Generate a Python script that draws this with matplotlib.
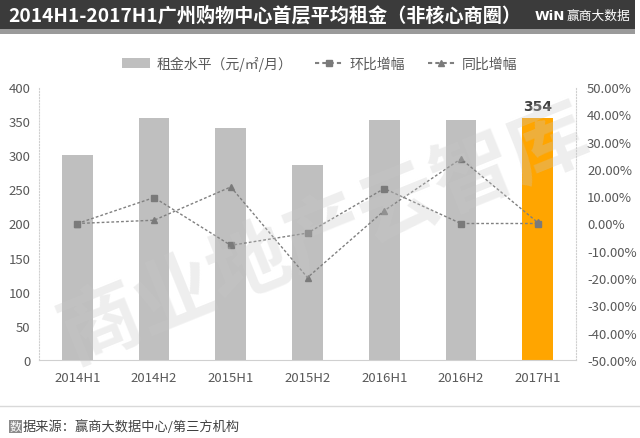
import matplotlib
matplotlib.use("Agg")
import matplotlib.pyplot as plt
import matplotlib.patches as mpatches
from matplotlib.lines import Line2D
import numpy as np

plt.rcParams['font.family'] = ['Noto Sans CJK SC', 'DejaVu Sans']

categories = ["2014H1", "2014H2", "2015H1", "2015H2", "2016H1", "2016H2", "2017H1"]
rent = [300, 354, 340, 285, 351, 351, 354]
qoq = [0.0, 9.5, -8.0, -3.5, 12.8, 0.0, 0.0]
yoy = [0.0, 1.2, 13.4, -19.8, 4.7, 23.7, 0.4]
left_ticks = [0, 50, 100, 150, 200, 250, 300, 350, 400]
right_ticks = [-50, -40, -30, -20, -10, 0, 10, 20, 30, 40, 50]

title = "2014H1-2017H1广州购物中心首层平均租金（非核心商圈）"
legend_labels = ["租金水平（元/㎡/月）", "环比增幅", "同比增幅"]
source = "据来源：赢商大数据中心/第三方机构"

W, H = 640, 439
fig = plt.figure(figsize=(W / 100, H / 100), dpi=100)
fig.patch.set_facecolor("white")

# title band
fig.patches.append(mpatches.Rectangle((0, 1 - 30 / H), 635 / W, 30 / H, transform=fig.transFigure,
                                      facecolor="#3b3b3b", edgecolor="none", zorder=0))
fig.patches.append(mpatches.Rectangle((0, 1 - 35 / H), 635 / W, 5 / H, transform=fig.transFigure,
                                      facecolor="#9a9a9a", edgecolor="none", zorder=0))
fig.text(8 / W, 1 - 16 / H, title, color="white", fontsize=13.8, fontweight="bold",
         va="center", ha="left")
fig.text(535 / W, 1 - 16 / H, "WiN", color="white", fontsize=9.5, fontweight="bold",
         va="center", ha="left", family="DejaVu Sans")
fig.text(567 / W, 1 - 16 / H, "赢商大数据", color="white", fontsize=9.2,
         va="center", ha="left")

ax = fig.add_axes([39 / W, 1 - 361 / H, (576 - 39) / W, (361 - 88) / H])
x = np.arange(len(categories))
colors = ["#bfbfbf"] * (len(categories) - 1) + ["#ffa500"]
ax.bar(x, rent, width=0.4, color=colors, zorder=2)
ax.set_ylim(0, 400)
ax.set_xlim(-0.5, len(categories) - 0.5)
ax.set_yticks(left_ticks)
ax.set_xticks(x)
ax.set_xticklabels(categories)
ax.tick_params(axis="both", colors="#595959", labelsize=9.5, length=0)
ax.tick_params(axis="x", pad=8)
ax.tick_params(axis="y", pad=6)
for s in ["top", "right"]:
    ax.spines[s].set_visible(False)
ax.spines["left"].set_color("#d0d0d0")
ax.spines["left"].set_linestyle(":")
ax.spines["bottom"].set_color("#d0d0d0")
ax.text(x[-1], rent[-1] + 8, str(rent[-1]), ha="center", va="bottom", fontsize=10,
        fontweight="bold", color="#404040", family="DejaVu Sans")

ax2 = ax.twinx()
ax2.set_ylim(-50, 50)
ax2.set_yticks(right_ticks)
ax2.set_yticklabels([f"{v:.2f}%" for v in right_ticks])
ax2.tick_params(axis="y", colors="#595959", labelsize=9.5, length=0, pad=8)
for s in ["top", "left", "bottom"]:
    ax2.spines[s].set_visible(False)
ax2.spines["right"].set_color("#d0d0d0")
ax2.spines["right"].set_linestyle(":")
ax2.plot(x, qoq, linestyle=(0, (2, 1.5)), color="#808080", linewidth=1.0,
         marker="s", markersize=5, markerfacecolor="#7a7a7a", markeredgecolor="#7a7a7a", zorder=3)
ax2.plot(x, yoy, linestyle=(0, (2, 1.5)), color="#808080", linewidth=1.0,
         marker="^", markersize=5, markerfacecolor="#7a7a7a", markeredgecolor="#7a7a7a", zorder=3)

# watermark
fig.text(325 / W, 1 - 235 / H, "商业地产云智库", fontsize=58, color="#c8c8c8", alpha=0.3,
         rotation=22, ha="center", va="center", fontweight="bold", zorder=5)

# legend
handles = [
    mpatches.Patch(facecolor="#bfbfbf", edgecolor="none"),
    Line2D([], [], linestyle=(0, (2, 1.5)), color="#808080", marker="s", markersize=4,
           markerfacecolor="#7a7a7a", markeredgecolor="#7a7a7a"),
    Line2D([], [], linestyle=(0, (2, 1.5)), color="#808080", marker="^", markersize=4,
           markerfacecolor="#7a7a7a", markeredgecolor="#7a7a7a"),
]
fig.legend(handles, legend_labels, loc="center", bbox_to_anchor=(0.5, 1 - 64 / H), ncol=3,
           frameon=False, fontsize=10, labelcolor="#595959", handlelength=2.0,
           columnspacing=1.6, handletextpad=0.5)

# footer
fig.add_artist(Line2D([0, 1], [1 - 407 / H, 1 - 407 / H], transform=fig.transFigure,
                      color="#d9d9d9", linewidth=1))
fig.patches.append(mpatches.Rectangle((9 / W, 1 - 434 / H), 13 / W, 13 / H, transform=fig.transFigure,
                                      facecolor="#8c8c8c", edgecolor="none"))
fig.text(9.5 / W, 1 - 427.5 / H, "数", color="white", fontsize=8.5, va="center", ha="left")
fig.text(23 / W, 1 - 427.5 / H, source, color="#404040", fontsize=9.5, va="center", ha="left")

fig.savefig("out.png", dpi=100, facecolor="white")
